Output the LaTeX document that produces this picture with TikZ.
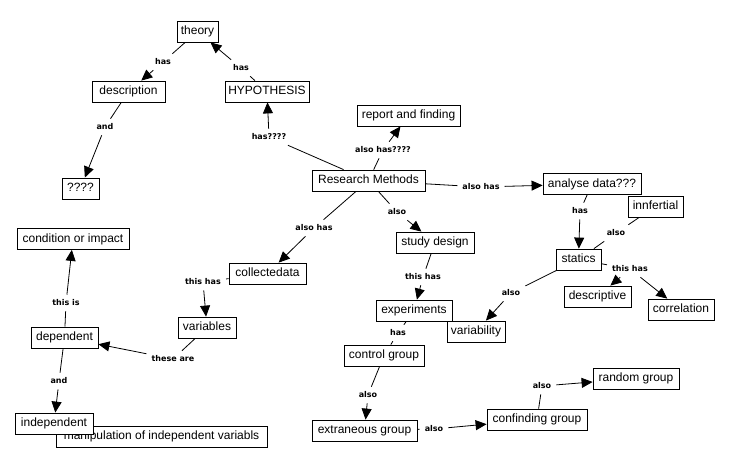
\documentclass[tikz,border=0pt]{standalone}
\usepackage{fontspec}
\setmainfont{Liberation Sans}
\newfontfamily\lblfont{DejaVu Sans}
\usetikzlibrary{arrows.meta}
\begin{document}
\begin{tikzpicture}[x=1pt,y=-1pt,
 box/.style={draw, line width=0.8pt, fill=white, font=\fontsize{12}{14}\selectfont, inner xsep=3pt, inner ysep=0pt, minimum height=21pt, text height=9pt, text depth=2.5pt},
 lbl/.style={font=\lblfont\bfseries\fontsize{8}{10}\selectfont, inner xsep=5pt, inner ysep=5pt},
 ln/.style={line width=0.8pt},
 arr/.style={line width=0.8pt, -{Triangle[length=11pt,width=10pt]}}]
\fill[white] (0,0) rectangle (731,467);
\useasboundingbox (0,0) rectangle (731,467);
% boxes
\node[box,minimum width=41] (theory) at (197.5,31.5) {theory};
\node[box,minimum width=73] (desc) at (128.5,91.5) {description};
\node[box,minimum width=84] (hyp) at (267,91.5) {HYPOTHESIS};
\node[box,minimum width=37] (q) at (80.5,188.5) {????};
\node[box,minimum width=113] (rm) at (368.5,180.5) {Research Methods};
\node[box,minimum width=103] (rep) at (408.5,115.5) {report and finding};
\node[box,minimum width=98] (ana) at (592,184) {analyse data???};
\node[box,minimum width=55] (inn) at (655.5,206.5) {innfertial};
\node[box,minimum width=78] (sd) at (435,242.5) {study design};
\node[box,minimum width=45] (stat) at (578.5,259.5) {statics};
\node[box,minimum width=67] (descr) at (597.5,296.5) {descriptive};
\node[box,minimum width=66] (corr) at (681,309.5) {correlation};
\node[box,minimum width=76] (exp) at (414,310.5) {experiments};
\node[box,minimum width=58] (var) at (476,331.5) {variability};
\node[box,minimum width=80] (cg) at (384,355.5) {control group};
\node[box,minimum width=105] (ext) at (364.5,430.5) {extraneous group};
\node[box,minimum width=100] (conf) at (537,419.5) {confinding group};
\node[box,minimum width=86] (rand) at (636,378.5) {random group};
\node[box,minimum width=112] (cond) at (73,239) {condition or impact};
\node[box,minimum width=77] (coll) at (267.5,273.5) {collectedata};
\node[box,minimum width=58] (vars) at (207,327.5) {variables};
\node[box,minimum width=67] (dep) at (64.5,337.5) {dependent};
\node[box,minimum width=211] (manip) at (161.5,436.5) {manipulation of independent variabls};
\node[box,minimum width=78] (indep) at (54,423.5) {independent};
% labels
\node[lbl] (l1) at (163,62) {has};
\node[lbl] (l2) at (241,68) {has};
\node[lbl] (l3) at (105,127) {and};
\node[lbl] (l4) at (269,137) {has????};
\node[lbl] (l5) at (383,150) {also has????};
\node[lbl] (l6) at (481,187) {also has};
\node[lbl] (l7) at (314,228) {also has};
\node[lbl] (l8) at (397,212) {also};
\node[lbl] (l9) at (580,211) {has};
\node[lbl] (l10) at (616,233) {also};
\node[lbl] (l11) at (423,277) {this has};
\node[lbl] (l12) at (630,269) {this has};
\node[lbl] (l13) at (511,293) {also};
\node[lbl] (l14) at (398,333) {has};
\node[lbl] (l15) at (368,395) {also};
\node[lbl] (l16) at (434,429) {also};
\node[lbl] (l17) at (542,386) {also};
\node[lbl] (l18) at (66,303) {this is};
\node[lbl] (l19) at (59,381) {and};
\node[lbl] (l20) at (203,282) {this has};
\node[lbl] (l21) at (173,359) {these are};
% connectors
\draw[ln] (theory) -- (l1); \draw[arr] (l1) -- (desc);
\draw[ln] (hyp) -- (l2); \draw[arr] (l2) -- (theory);
\draw[ln] (desc) -- (l3); \draw[arr] (l3) -- (q);
\draw[ln] (rm) -- (l4); \draw[arr] (l4) -- (hyp);
\draw[ln] (rm) -- (l5); \draw[arr] (l5) -- (rep);
\draw[ln] (rm) -- (l6); \draw[arr] (l6) -- (ana);
\draw[ln] (rm) -- (l7); \draw[arr] (l7) -- (coll);
\draw[ln] (rm) -- (l8); \draw[arr] (l8) -- (sd);
\draw[ln] (ana) -- (l9); \draw[arr] (l9) -- (stat);
\draw[ln] (inn) -- (l10); \draw[ln] (l10) -- (stat);
\draw[ln] (sd) -- (l11); \draw[arr] (l11) -- (exp);
\draw[ln] (stat) -- (l12); \draw[arr] (l12) -- (descr); \draw[arr] (l12) -- (corr);
\draw[ln] (stat) -- (l13); \draw[arr] (l13) -- (var);
\draw[ln] (exp) -- (l14); \draw[ln] (l14) -- (cg);
\draw[ln] (cg) -- (l15); \draw[arr] (l15) -- (ext);
\draw[ln] (ext) -- (l16); \draw[arr] (l16) -- (conf);
\draw[ln] (conf) -- (l17); \draw[arr] (l17) -- (rand);
\draw[ln] (dep) -- (l18); \draw[arr] (l18) -- (cond);
\draw[ln] (dep) -- (l19); \draw[arr] (l19) -- (indep);
\draw[ln] (coll) -- (l20); \draw[arr] (l20) -- (vars);
\draw[ln] (vars) -- (l21); \draw[arr] (l21) -- (dep);
\end{tikzpicture}
\end{document}
